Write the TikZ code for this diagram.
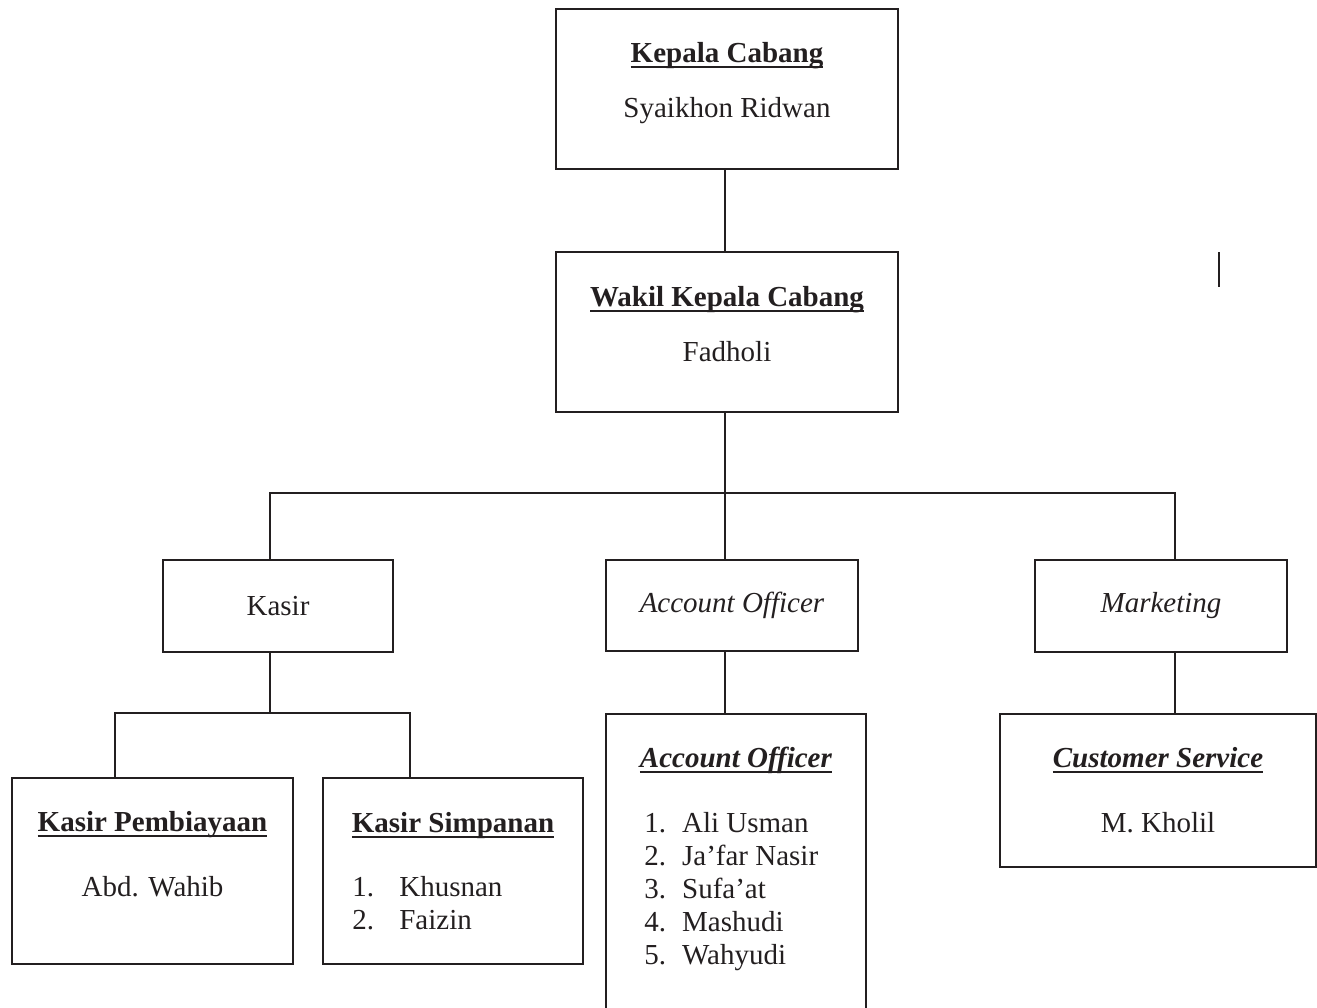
\documentclass[tikz,border=0pt]{standalone}
\usepackage{fontspec}
\setmainfont{Liberation Serif}
\usepackage{xcolor}
\usepackage{tikz}
\usetikzlibrary{positioning, calc}
\definecolor{ink}{RGB}{35,31,32}
\tikzstyle{unit} = [draw=ink, rectangle, line width=1pt, inner sep=0pt, text=ink]
\tikzstyle{txt} = [anchor=base, inner sep=0pt, text=ink]
\tikzstyle{list} = [anchor=base west, inner sep=0pt, text=ink]
\tikzstyle{link} = [draw=ink, line width=1pt]
\newcommand{\ulhead}[1]{\setbox0=\hbox{#1}\rlap{\color{ink}\rule[-3pt]{\wd0}{1pt}}\box0}

\begin{document}
\begin{tikzpicture}[x=0.5pt, y=-0.5pt, font=\fontsize{14.5}{16.5}\selectfont]
    \useasboundingbox (0,0) rectangle (1317,1007);

    \node (kepala) [unit, minimum width=171pt, minimum height=80pt] at (727,89) {};
    \node (wakil) [unit, minimum width=171pt, minimum height=80pt] at (727,332) {};
    \node (kasir) [unit, minimum width=115pt, minimum height=46pt] at (278,606) {Kasir};
    \node (aohead) [unit, minimum width=126pt, minimum height=45.5pt] at (732,605.5) {\textit{Account Officer}};
    \node (marketing) [unit, minimum width=126pt, minimum height=46pt] at (1161,606) {\textit{Marketing}};
    \node (kasirp) [unit, minimum width=140.5pt, minimum height=93pt] at (152.5,871) {};
    \node (kasirs) [unit, minimum width=130pt, minimum height=93pt] at (453,871) {};
    \node (aolist) [unit, minimum width=130pt, minimum height=150.5pt] at (736,864.5) {};
    \node (cs) [unit, minimum width=158pt, minimum height=76.5pt] at (1158,790.5) {};

    % Box texts
    \node (kepalat) [txt] at ($(kepala.north)+(0,54)$) {\ulhead{\textbf{Kepala Cabang}}};
    \node (kepalan) [txt] at ($(kepala.north)+(0,109)$) {Syaikhon Ridwan};
    \node (wakilt) [txt] at ($(wakil.north)+(0,55)$) {\ulhead{\textbf{Wakil Kepala Cabang}}};
    \node (wakiln) [txt] at ($(wakil.north)+(0,110)$) {Fadholi};
    \node (kasirpt) [txt] at ($(kasirp.north)+(0,54)$) {\ulhead{\textbf{Kasir Pembiayaan}}};
    \node (kasirpn) [txt] at ($(kasirp.north)+(0,119)$) {Abd. Wahib};
    \node (kasirst) [txt] at ($(kasirs.north)+(0,55)$) {\ulhead{\textbf{Kasir Simpanan}}};
    \node (kasirsn) [list] at ($(kasirs.north west)+(30,119)$)
        {\begin{tabular}[t]{@{}l@{\hspace{12.6pt}}l@{}}1. & Khusnan\\ 2. & Faizin\end{tabular}};
    \node (aolistt) [txt] at ($(aolist.north)+(0,54)$) {\ulhead{\textbf{\textit{Account Officer}}}};
    \node (aolistn) [list] at ($(aolist.north west)+(39,119)$)
        {\begin{tabular}[t]{@{}l@{\hspace{8pt}}l@{}}1. & Ali Usman\\ 2. & Ja’far Nasir\\ 3. & Sufa’at\\ 4. & Mashudi\\ 5. & Wahyudi\end{tabular}};
    \node (cst) [txt] at ($(cs.north)+(0,54)$) {\ulhead{\textbf{\textit{Customer Service}}}};
    \node (csn) [txt] at ($(cs.north)+(0,119)$) {M. Kholil};

    % Junctions
    \coordinate (bus) at (725,493);
    \coordinate (busl) at (270,493);
    \coordinate (busr) at (1175,493);
    \coordinate (kbus) at (270,713);
    \coordinate (kbusl) at (115,713);
    \coordinate (kbusr) at (410,713);

    % Lines
    \draw [link] (kepala.south -| bus) -- (wakil.north -| bus);
    \draw [link] (wakil.south -| bus) -- (aohead.north -| bus);
    \draw [link] (kasir.north -| busl) |- (busr) -- (marketing.north -| busr);
    \draw [link] (kasir.south -| kbus) -- (kbus);
    \draw [link] (kasirp.north -| kbusl) |- (kbusr) -- (kasirs.north -| kbusr);
    \draw [link] (aohead.south -| bus) -- (aolist.north -| bus);
    \draw [link] (marketing.south -| busr) -- (cs.north -| busr);

    % Mark
    \draw [link] (1219,252) -- (1219,287);
\end{tikzpicture}
\end{document}
